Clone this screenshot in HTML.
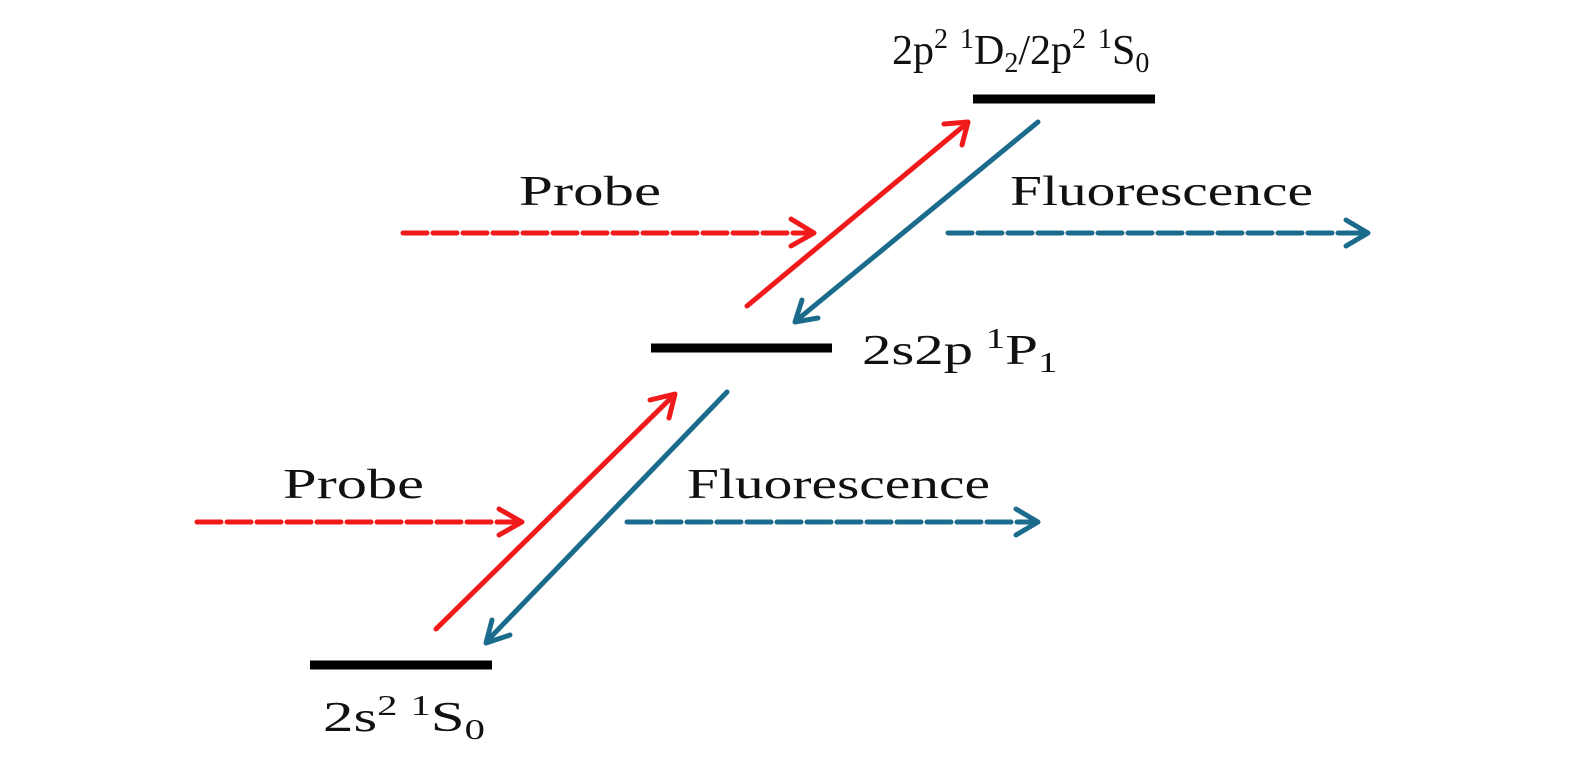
<!DOCTYPE html>
<html><head><meta charset="utf-8"><style>html,body{margin:0;padding:0;background:#fff}svg{display:block}</style></head>
<body>
<svg width="1575" height="758" viewBox="0 0 1575 758" xmlns="http://www.w3.org/2000/svg" font-family="'Liberation Serif', serif" fill="#111">
<g stroke="#000" stroke-width="9">
<line x1="973" y1="99" x2="1155" y2="99"/>
<line x1="651" y1="348" x2="832" y2="348"/>
<line x1="310" y1="665" x2="492" y2="665"/>
</g>
<g fill="none" stroke-width="5" stroke-linecap="round" stroke-linejoin="round">
<g stroke="#f01a1a">
<line x1="747" y1="306" x2="966" y2="124"/>
<polyline points="944,124 968,122 962,145"/>
<line x1="436" y1="629" x2="673" y2="396"/>
<polyline points="650,400 675,394 669,418"/>
<line x1="403" y1="233" x2="812" y2="233" stroke-dasharray="24,6"/>
<polyline points="791,219 814,233 791,246"/>
<line x1="197" y1="522" x2="520" y2="522" stroke-dasharray="24,6"/>
<polyline points="499,509 522,522 499,535"/>
</g>
<g stroke="#1b6c8c">
<line x1="1038" y1="122" x2="797" y2="320"/>
<polyline points="818,318 795,322 802,300"/>
<line x1="727" y1="392" x2="488" y2="640"/>
<polyline points="510,635 486,643 492,620"/>
<line x1="948" y1="233" x2="1365" y2="233" stroke-dasharray="24,6"/>
<polyline points="1346,220 1368,233 1346,246"/>
<line x1="627" y1="522" x2="1035" y2="522" stroke-dasharray="24,6"/>
<polyline points="1016,509 1038,522 1016,535"/>
</g>
</g>
<g font-size="42">
<text x="519" y="205" textLength="142" lengthAdjust="spacingAndGlyphs">Probe</text>
<text x="1010" y="205" textLength="303" lengthAdjust="spacingAndGlyphs">Fluorescence</text>
<text x="283" y="498" textLength="141" lengthAdjust="spacingAndGlyphs">Probe</text>
<text x="687" y="498" textLength="303" lengthAdjust="spacingAndGlyphs">Fluorescence</text>
<g transform="translate(892,64) scale(1.0,1)"><text x="0" y="0">2p<tspan font-size="28" dy="-16">2</tspan><tspan dx="12" font-size="28">1</tspan><tspan dy="16">D</tspan><tspan font-size="28" dy="8">2</tspan><tspan dy="-8">/2p</tspan><tspan font-size="28" dy="-16">2</tspan><tspan dx="12" font-size="28">1</tspan><tspan dy="16">S</tspan><tspan font-size="28" dy="8">0</tspan></text></g>
<g transform="translate(862,364) scale(1.4,1)"><text x="0" y="0">2s2p<tspan dx="9" font-size="28" dy="-16">1</tspan><tspan dy="16">P</tspan><tspan font-size="28" dy="8">1</tspan></text></g>
<g transform="translate(323,731) scale(1.45,1)"><text x="0" y="0">2s<tspan font-size="28" dy="-16">2</tspan><tspan dx="9" font-size="28">1</tspan><tspan dy="16">S</tspan><tspan font-size="28" dy="8">0</tspan></text></g>
</g>
</svg>
</body></html>
